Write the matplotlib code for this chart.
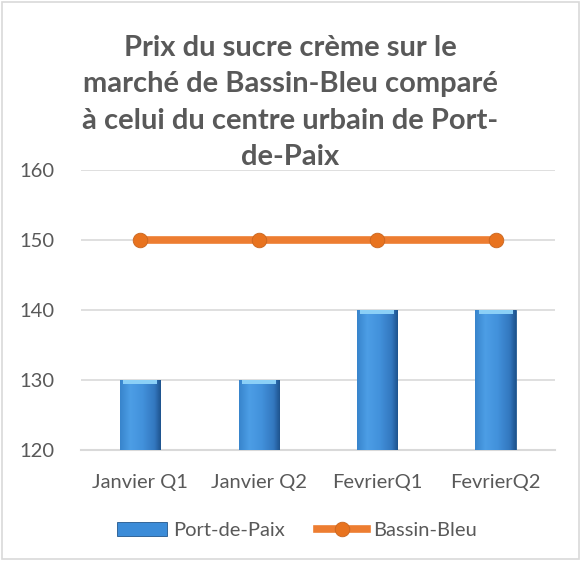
import matplotlib.pyplot as plt
import numpy as np
from matplotlib.patches import Rectangle

# data
categories = ['Janvier Q1', 'Janvier Q2', 'FevrierQ1', 'FevrierQ2']
port_de_paix = [130, 130, 140, 140]
bassin_bleu = [150, 150, 150, 150]
yticks = [120, 130, 140, 150, 160]

title = ('Prix du sucre crème sur le\n'
         'marché de Bassin-Bleu comparé\n'
         'à celui du centre urbain de Port-\n'
         'de-Paix')

plt.rcParams['font.family'] = ['Lato', 'DejaVu Sans']
txt = '#595959'
blue = '#3C8CD8'
orange = '#ED7D31'

fig = plt.figure(figsize=(5.81, 5.61), dpi=100)
fig.patch.set_facecolor('white')
fig.patches.append(Rectangle((0.004, 0.004), 0.992, 0.992, transform=fig.transFigure,
                             fill=False, edgecolor='#D9D9D9', lw=1.2))

ax = fig.add_axes([0.1394, 0.198, 0.8156, 0.499])
x = np.arange(len(categories))

bars = ax.bar(x, port_de_paix, width=0.34, color=blue, edgecolor='#23578C',
              linewidth=0.6, zorder=3, label='Port-de-Paix')

# cylinder like shading on the bars (light left, dark right edge)
stops = np.array([[0.22, 0.52, 0.80], [0.30, 0.62, 0.90], [0.26, 0.57, 0.86],
                  [0.20, 0.47, 0.75], [0.12, 0.33, 0.56]])
pos = np.array([0.0, 0.25, 0.55, 0.85, 1.0])
t = np.linspace(0, 1, 64)
img = np.stack([np.interp(t, pos, stops[:, c]) for c in range(3)], axis=-1)[None]
for b in bars:
    x0, w, h = b.get_x(), b.get_width(), b.get_height()
    im = ax.imshow(img, extent=[x0, x0 + w, 120, h], aspect='auto', zorder=3.5,
                   interpolation='bilinear')
    im.set_clip_path(b)
    ax.add_patch(Rectangle((x0 + w * 0.08, h - 0.55), w * 0.84, 0.55,
                           color='#8BD0F7', zorder=3.6, lw=0))

ax.plot(x, bassin_bleu, color=orange, lw=5.5, marker='o', markersize=10.5,
        markerfacecolor='#E8731F', markeredgecolor='#C9651F', markeredgewidth=0.6,
        zorder=4, label='Bassin-Bleu')

ax.set_xlim(-0.5, len(categories) - 0.5)
ax.set_ylim(120, 160)
ax.set_yticks(yticks)
ax.set_xticks(x)
ax.set_xticklabels(categories)
ax.tick_params(length=0, labelsize=14.5, colors=txt)
ax.tick_params(axis='x', pad=17)
ax.tick_params(axis='y', pad=19)
ax.grid(axis='y', color='#D9D9D9', lw=1.2, zorder=0)
for s in ['top', 'right', 'left']:
    ax.spines[s].set_visible(False)
ax.spines['bottom'].set_color('#D9D9D9')
ax.spines['bottom'].set_linewidth(1.5)
ax.set_facecolor('none')

fig.text(0.5, 0.938, title, ha='center', va='top', fontsize=21, fontweight='bold',
         color=txt, linespacing=1.5)

h, l = ax.get_legend_handles_labels()
order = [l.index('Port-de-Paix'), l.index('Bassin-Bleu')]
fig.legend([h[i] for i in order], [l[i] for i in order], loc='center',
           bbox_to_anchor=(0.511, 0.055), ncol=2, frameon=False,
           fontsize=14.5, labelcolor=txt, handlelength=2.5, columnspacing=1.6,
           handletextpad=0.3)

fig.savefig('out.png', dpi=100)
